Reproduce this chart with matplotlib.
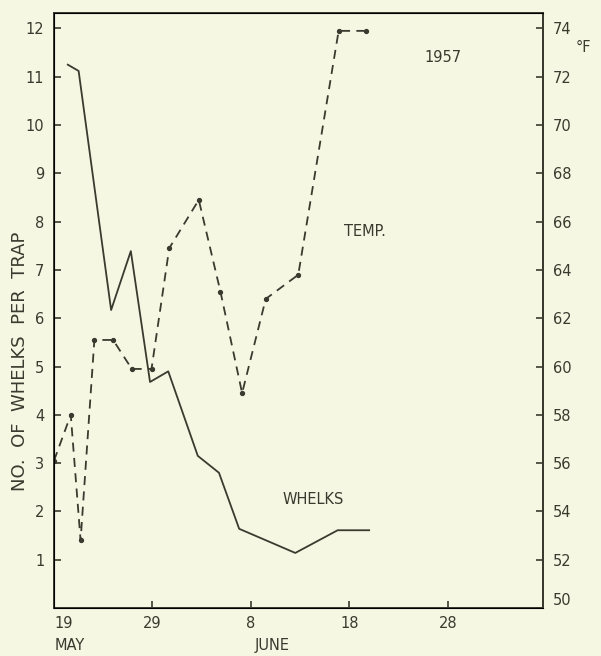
import matplotlib
matplotlib.use('Agg')
import matplotlib.pyplot as plt
import matplotlib.transforms as mtransforms

# days counted from 19 May 1957
whelk_days = [1.4, 2.5, 5.8, 7.8, 9.75, 11.6, 14.6, 16.75, 18.8, 24.5, 28.8, 32.0]
whelks = [11.25, 11.12, 6.17, 7.39, 4.68, 4.9, 3.15, 2.8, 1.64, 1.14, 1.61, 1.61]

temp_days = [0.0, 1.7, 2.7, 4.1, 6.0, 7.9, 9.9, 11.7, 14.7, 16.9, 19.1, 21.5, 24.8, 28.9, 31.7]
temps = [56.1, 58.0, 52.8, 61.1, 61.1, 59.9, 59.9, 64.9, 66.9, 63.1, 58.9, 62.8, 63.8, 73.9, 73.9]

x_ticks = [0, 10, 20, 30, 40]
x_labels = ['19', '29', '8', '18', '28']
left_ticks = list(range(1, 13))
right_ticks = list(range(50, 75, 2))

bg = '#f5f7e3'
ink = '#3a3a2e'
plt.rcParams['font.family'] = 'DejaVu Sans'

fig = plt.figure(figsize=(6.01, 6.56), dpi=100, facecolor=bg)
ax = fig.add_axes([54/601, 48/656, 489/601, 595/656])
ax.set_facecolor(bg)

ax.plot(whelk_days, whelks, color=ink, lw=1.3)
ax.set_xlim(0, 49.65)
ax.set_ylim(0, 12.32)

for s in ax.spines.values():
    s.set_color(ink)
    s.set_linewidth(1.4)

ax.set_xticks(x_ticks)
ax.set_xticklabels(x_labels)
ax.set_yticks(left_ticks)
ax.tick_params(axis='both', direction='in', length=5, width=1.2, colors=ink,
               labelsize=10.5, labelcolor=ink)
ax.tick_params(axis='x', pad=6)
ax.tick_params(axis='y', pad=7)
ax.xaxis.get_major_ticks()[0].tick1line.set_visible(False)
ax.get_xticklabels()[0].set_horizontalalignment('left')

ax.set_ylabel('NO.  OF  WHELKS  PER  TRAP', color=ink, fontsize=13)
ax.yaxis.set_label_coords(-0.052, 0.415)

ax2 = ax.twinx()
ax2.plot(temp_days, temps, color=ink, lw=1.3, ls=(0, (5, 3.5)), marker='o', ms=2.8)
ax2.set_ylim(50, 74.64)
ax2.set_yticks(right_ticks)
ax2.tick_params(axis='y', direction='in', length=5, width=1.2, colors=ink,
                labelsize=10.5, labelcolor=ink, pad=7)
ax2.spines['right'].set_color(ink)
ax2.spines['right'].set_linewidth(1.4)
ax2.get_yticklabels()[0].set_verticalalignment('bottom')

trans = mtransforms.blended_transform_factory(ax.transData, ax.transAxes)
ax.text(0.1, -0.063, 'MAY', transform=trans, ha='left', va='center', color=ink, fontsize=10.5)
ax.text(22.2, -0.063, 'JUNE', transform=trans, ha='center', va='center', color=ink, fontsize=10.5)

ax.text(39.5, 11.4, '1957', ha='center', va='center', color=ink, fontsize=10.5)
ax.text(31.6, 7.8, 'TEMP.', ha='center', va='center', color=ink, fontsize=10.5)
ax.text(26.3, 2.25, 'WHELKS', ha='center', va='center', color=ink, fontsize=10.5)
fig.text(583/601, 1 - 48/656, '°F', ha='center', va='center', color=ink, fontsize=10.5)

fig.savefig('out.png', dpi=100, facecolor=bg)
